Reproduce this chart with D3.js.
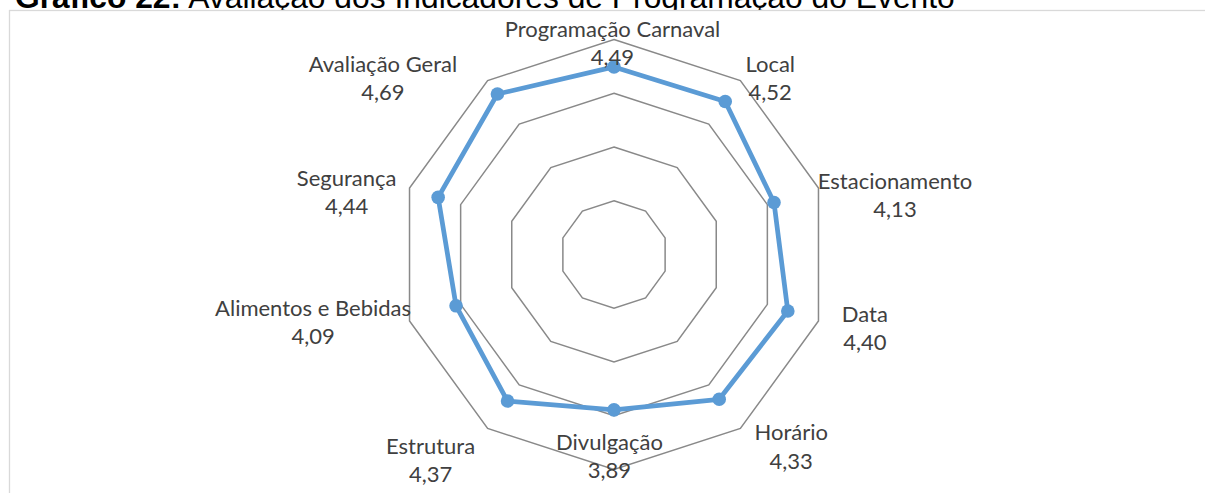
<!DOCTYPE html>
<html>
<head>
<meta charset="utf-8">
<script src="https://cdn.jsdelivr.net/npm/d3@7"></script>
<style>
  body { margin: 0; background: #fff; }
  svg { display: block; }
</style>
</head>
<body>
<svg id="chart" width="1205" height="493"></svg>
<script>
// categories clockwise from the top
const categories = ["Programação Carnaval", "Local", "Estacionamento", "Data", "Horário",
  "Divulgação", "Estrutura", "Alimentos e Bebidas", "Segurança", "Avaliação Geral"];
const values = [4.49, 4.52, 4.13, 4.40, 4.33, 3.89, 4.37, 4.09, 4.44, 4.69];
const ringTicks = [2, 3, 4, 5];
// where each label block sits, relative to its point
const labelOffsets = [[-1.5, -16], [45, -15.5], [121, 0.5], [77, 25], [72, 55],
  [-4.5, 54], [-77, 67], [-143, 24], [-91.5, 2.5], [-114.5, -8]];

const svg = d3.select("#chart");
const cx = 614, cy = 254.5;

const ptBR = d3.formatLocale({ decimal: ",", thousands: ".", grouping: [3], currency: ["R$", ""] });
const fmt = ptBR.format(".2f");

// title, cut at the top like the source
const title = svg.append("text")
  .attr("x", 15).attr("y", 8)
  .attr("font-family", "Liberation Sans, Arial, sans-serif")
  .attr("font-size", 26)
  .attr("fill", "#000");
title.append("tspan").attr("font-weight", "bold").text("Gráfico 22:");
title.append("tspan").text(" Avaliação dos Indicadores de Programação do Evento");
let tw = title.node().getComputedTextLength();
title.attr("font-size", 26 * 940 / tw);

// chart area box
svg.append("rect")
  .attr("x", 9.5).attr("y", 10.5)
  .attr("width", 1200).attr("height", 500)
  .attr("fill", "#fff")
  .attr("stroke", "#d9d9d9")
  .attr("stroke-width", 1.3);

const r = d3.scaleLinear().domain([1, 5]).range([0, 215]);
const angle = d3.scaleLinear().domain([0, categories.length]).range([0, 2 * Math.PI]);

const g = svg.append("g").attr("transform", `translate(${cx},${cy})`);

// rings
const ringLine = d3.lineRadial().curve(d3.curveLinearClosed);
g.selectAll(".ring")
  .data(ringTicks)
  .join("path")
  .attr("class", "ring")
  .attr("d", t => ringLine(categories.map((c, i) => [angle(i), r(t)])))
  .attr("fill", "none")
  .attr("stroke", "#898989")
  .attr("stroke-width", 1.5);

// series
const seriesLine = d3.lineRadial()
  .angle((d, i) => angle(i))
  .radius(d => r(d))
  .curve(d3.curveLinearClosed);

g.append("path")
  .datum(values)
  .attr("d", seriesLine)
  .attr("fill", "none")
  .attr("stroke", "#5b9bd5")
  .attr("stroke-width", 4.75)
  .attr("stroke-linejoin", "round");

const px = (d, i) => r(d) * Math.sin(angle(i));
const py = (d, i) => -r(d) * Math.cos(angle(i));

g.selectAll(".dot")
  .data(values)
  .join("circle")
  .attr("class", "dot")
  .attr("cx", px)
  .attr("cy", py)
  .attr("r", 6.8)
  .attr("fill", "#5b9bd5");

// labels: category name with value beneath
const labels = g.selectAll(".lbl")
  .data(values)
  .join("text")
  .attr("class", "lbl")
  .attr("text-anchor", "middle")
  .attr("font-family", "Lato, 'Open Sans', sans-serif")
  .attr("font-size", 22)
  .attr("fill", "#404040")
  .attr("transform", (d, i) => `translate(${px(d, i) + labelOffsets[i][0]},${py(d, i) + labelOffsets[i][1]})`);

labels.append("tspan").attr("x", 0).attr("y", -14.2).text((d, i) => categories[i]);
labels.append("tspan").attr("x", 0).attr("y", 14.2).text(d => fmt(d));
</script>
</body>
</html>
